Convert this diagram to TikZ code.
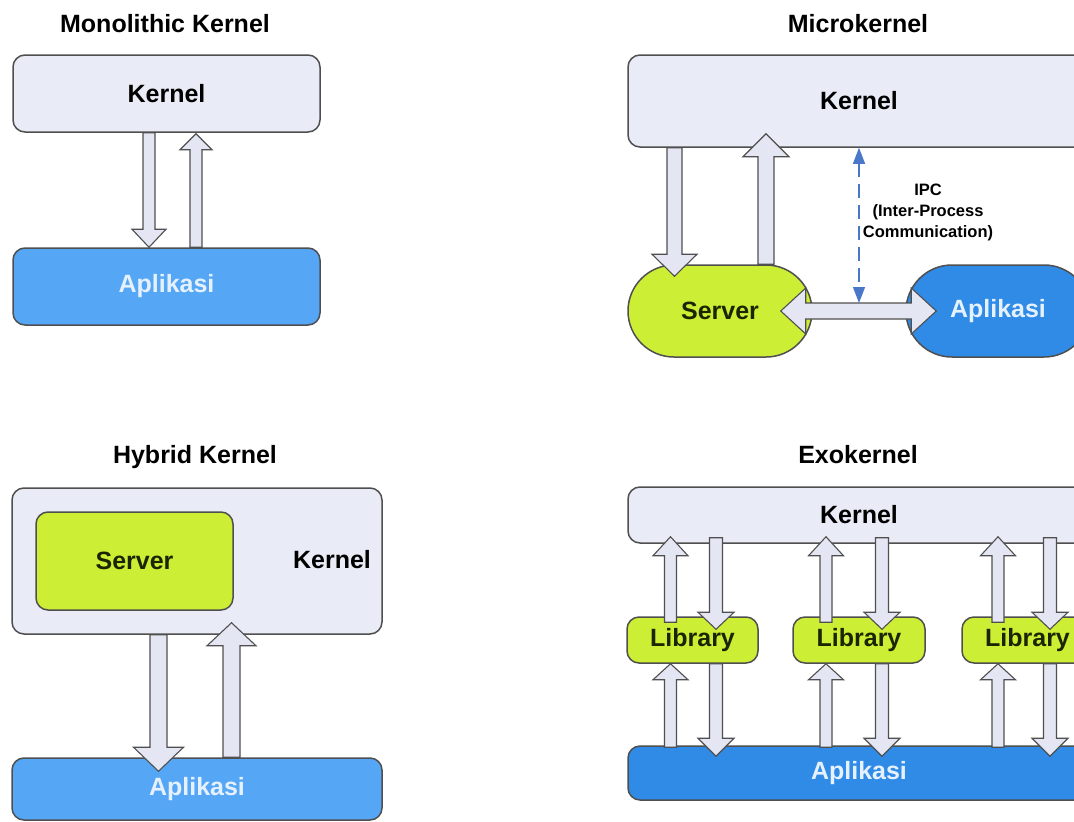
\documentclass[tikz,border=0pt]{standalone}
\usepackage{fontspec}
\setmainfont{Liberation Sans}
\usetikzlibrary{shapes.misc, arrows.meta, calc}

\definecolor{kernfill}{HTML}{E9ECF6}
\definecolor{edgegray}{HTML}{4F4F4F}
\definecolor{arrowfill}{HTML}{E4E7F3}
\definecolor{applight}{HTML}{55A7F6}
\definecolor{appdeep}{HTML}{2F8BE6}
\definecolor{limefill}{HTML}{CCEE35}
\definecolor{srvtext}{HTML}{1A2600}
\definecolor{ipcblue}{HTML}{4A78C8}
\definecolor{apptext}{HTML}{E6F1FF}

\begin{document}
\begin{tikzpicture}[
    x=1pt, y=-1pt,
    big/.style={font=\fontsize{25}{30}\selectfont\bfseries},
    box/.style={rectangle, draw=edgegray, line width=1.5pt, rounded corners=12pt, inner sep=0pt, big},
    kern/.style={box, fill=kernfill},
    app/.style={box, fill=applight, text=apptext},
    lib/.style={box, fill=limefill, text=srvtext},
    pill/.style={rounded rectangle, draw=edgegray, line width=1.5pt, inner sep=0pt,
        minimum width=184pt, minimum height=92pt, big},
    title/.style={anchor=base, big},
    fat/.style n args={3}{draw=edgegray, fill=arrowfill, line width=1.1pt, line join=miter,
        to path={
            ($(\tikztostart)!#1!90:(\tikztotarget)$)
            -- ($(\tikztotarget)!#3!(\tikztostart)!#1!-90:(\tikztostart)$)
            -- ($(\tikztotarget)!#3!(\tikztostart)!#2!-90:(\tikztostart)$)
            -- (\tikztotarget)
            -- ($(\tikztotarget)!#3!(\tikztostart)!#2!90:(\tikztostart)$)
            -- ($(\tikztotarget)!#3!(\tikztostart)!#1!90:(\tikztostart)$)
            -- ($(\tikztostart)!#1!-90:(\tikztotarget)$)
            -- cycle}},
    fatboth/.style n args={3}{draw=edgegray, fill=arrowfill, line width=1.1pt, line join=miter,
        to path={
            (\tikztostart)
            -- ($(\tikztostart)!#3!(\tikztotarget)!#2!90:(\tikztotarget)$)
            -- ($(\tikztostart)!#3!(\tikztotarget)!#1!90:(\tikztotarget)$)
            -- ($(\tikztotarget)!#3!(\tikztostart)!#1!-90:(\tikztostart)$)
            -- ($(\tikztotarget)!#3!(\tikztostart)!#2!-90:(\tikztostart)$)
            -- (\tikztotarget)
            -- ($(\tikztotarget)!#3!(\tikztostart)!#2!90:(\tikztostart)$)
            -- ($(\tikztotarget)!#3!(\tikztostart)!#1!90:(\tikztostart)$)
            -- ($(\tikztostart)!#3!(\tikztotarget)!#1!-90:(\tikztotarget)$)
            -- ($(\tikztostart)!#3!(\tikztotarget)!#2!-90:(\tikztotarget)$)
            -- cycle}},
    ipc/.style={ipcblue, line width=1.3pt, dash pattern=on 14pt off 7pt,
        {Triangle[length=16pt,width=12pt]}-{Triangle[length=16pt,width=12pt]}}
]
    \useasboundingbox[fill=white] (0,0) rectangle (1074,822);
    \clip (0,0) rectangle (1074,822);

    % Monolithic kernel
    \node[title] (mot) at (165,32) {Monolithic Kernel};
    \node[kern, minimum width=307pt, minimum height=77pt] (mok) at (166.5,93.5) {Kernel};
    \node[app, minimum width=307pt, minimum height=77pt] (moa) at (166.5,286.5) {Aplikasi};
    \draw[fat={6pt}{17pt}{18pt}] ([xshift=-17.5pt]mok.south) to ([xshift=-17.5pt]moa.north);
    \draw[fat={6pt}{16pt}{16pt}] ([xshift=29.5pt]moa.north) to ([xshift=29.5pt,yshift=-1pt]mok.south);

    % Microkernel
    \node[title] (mit) at (858,32) {Microkernel};
    \node[kern, minimum width=462pt, minimum height=92pt] (mik) at (859,101) {Kernel};
    \node[pill, fill=limefill, text=srvtext] (mis) at (720,311) {Server};
    \node[pill, fill=appdeep, text=apptext] (mia) at (998,311) {Aplikasi};
    \draw[fat={7.5pt}{22.5pt}{22pt}] ([xshift=-45.5pt]mis.north |- mik.south) to ([xshift=-45.5pt,yshift=-12pt]mis.north);
    \draw[fat={8pt}{23pt}{23pt}] ([xshift=46pt]mis.north) to ([xshift=46pt,yshift=14pt]mis.north |- mik.south);
    \draw[fatboth={8pt}{23pt}{25pt}] ([xshift=-32pt]mis.east) to ([xshift=31pt]mia.west);
    \draw[ipc] (mik.south) -- ([yshift=8pt]mik.south |- mis.center);
    \node[align=center, font=\fontsize{16.5}{21}\selectfont\bfseries] (mic) at (928,212)
        {IPC\\(Inter-Process\\Communication)};

    % Hybrid kernel
    \node[title] (hyt) at (195,463) {Hybrid Kernel};
    \node[kern, minimum width=370pt, minimum height=146pt] (hyk) at (197,561) {};
    \node[big] (hyl) at (332,560) {Kernel};
    \node[lib, minimum width=197pt, minimum height=98pt] (hys) at (134.5,561) {Server};
    \node[app, minimum width=370pt, minimum height=62pt] (hya) at (197,789) {Aplikasi};
    \draw[fat={8.5pt}{25pt}{24pt}] ([xshift=-38.5pt]hyk.south) to ([xshift=-38.5pt,yshift=-14pt]hya.north);
    \draw[fat={8.5pt}{24.5pt}{23pt}] ([xshift=34.5pt]hya.north) to ([xshift=34.5pt,yshift=12pt]hyk.south);

    % Exokernel
    \node[title] (ext) at (858,463) {Exokernel};
    \node[kern, minimum width=462pt, minimum height=56pt] (exk) at (859,515) {Kernel};
    \node[lib, minimum width=131pt, minimum height=46pt] (exl1) at (692.5,640) {Library};
    \node[lib, minimum width=132pt, minimum height=46pt] (exl2) at (859,640) {Library};
    \node[lib, minimum width=131pt, minimum height=46pt] (exl3) at (1027.5,640) {Library};
    \node[box, fill=appdeep, text=apptext, minimum width=462pt, minimum height=54pt] (exa) at (859,773) {Aplikasi};
    \foreach \lb/\ul/\dl in {exl1/-22pt/23.5pt, exl2/-33pt/23pt, exl3/-29.5pt/22.5pt} {
        \draw[fat={6pt}{17.5pt}{19pt}] ([xshift=\ul,yshift=-6pt]\lb.north) to ([xshift=\ul,yshift=7pt]\lb.north |- exk.south);
        \draw[fat={6.5pt}{18pt}{17pt}] ([xshift=\dl,yshift=6pt]\lb.north |- exk.south) to ([xshift=\dl,yshift=-13pt]\lb.north);
        \draw[fat={6pt}{17.5pt}{16pt}] ([xshift=\ul,yshift=-2pt]\lb.south |- exa.north) to ([xshift=\ul]\lb.south);
        \draw[fat={6.5pt}{18pt}{18pt}] ([xshift=\dl]\lb.south) to ([xshift=\dl,yshift=-11pt]\lb.south |- exa.north);
    }
\end{tikzpicture}
\end{document}
